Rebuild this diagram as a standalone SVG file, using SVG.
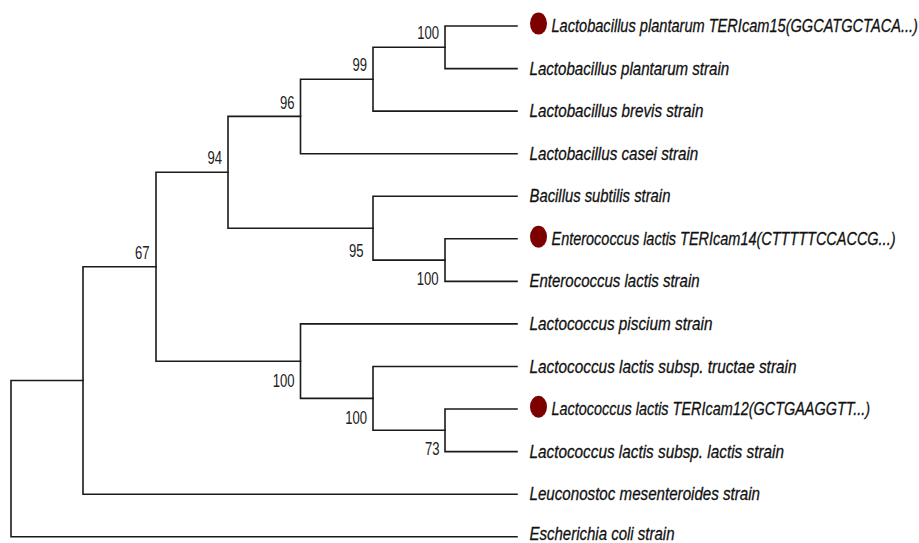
<svg xmlns="http://www.w3.org/2000/svg" width="919" height="543" viewBox="0 0 919 543">
<style>
.leaf{font-family:"Liberation Sans",Arial,sans-serif;font-style:italic;font-size:19px;fill:#111;stroke:#111;stroke-width:0.3}
.bs{font-family:"Liberation Sans",Arial,sans-serif;font-size:19px;fill:#222;text-anchor:end}
.dot{fill:#7d0000}
.br{fill:none;stroke:#1a1a1a;stroke-width:1.6;stroke-linecap:square}
</style>
<rect width="919" height="543" fill="#fff"/>
<g id="connectors" class="br">
<path d="M83,380.5 H11 V536.7 H517"/>
<path d="M156,266.7 H83 V494.2 H517"/>
<path d="M228,172.3 H156 V361.2 H300.5"/>
<path d="M300.5,116.4 H228 V228.2 H373"/>
<path d="M373,79.2 H300.5 V153.7 H517"/>
<path d="M445,47.3 H373 V111.1 H517"/>
<path d="M517,26 H445 V68.6 H517"/>
<path d="M517,196.2 H373 V260.1 H445"/>
<path d="M517,238.8 H445 V281.4 H517"/>
<path d="M517,323.9 H300.5 V398.4 H373"/>
<path d="M517,366.5 H373 V430.3 H445"/>
<path d="M517,409 H445 V451.6 H517"/>
</g>
<g id="leaf-lp-tericam15"><ellipse class="dot" cx="538.5" cy="23.6" rx="8.5" ry="11"/><text class="leaf" transform="translate(551.5,32) scale(0.768,1)">Lactobacillus plantarum TERIcam15(GGCATGCTACA...)</text></g>
<g id="leaf-lp-strain"><text class="leaf" transform="translate(529.5,74.6) scale(0.795,1)">Lactobacillus plantarum strain</text></g>
<g id="leaf-lb-strain"><text class="leaf" transform="translate(529.5,117.1) scale(0.8,1)">Lactobacillus brevis strain</text></g>
<g id="leaf-lc-strain"><text class="leaf" transform="translate(529.5,159.7) scale(0.8,1)">Lactobacillus casei strain</text></g>
<g id="leaf-bs-strain"><text class="leaf" transform="translate(529.5,202.2) scale(0.781,1)">Bacillus subtilis strain</text></g>
<g id="leaf-el-tericam14"><ellipse class="dot" cx="538.5" cy="236.8" rx="8.5" ry="11"/><text class="leaf" transform="translate(551.5,244.8) scale(0.762,1)">Enterococcus lactis TERIcam14(CTTTTTCCACCG...)</text></g>
<g id="leaf-el-strain"><text class="leaf" transform="translate(529.5,287.4) scale(0.79,1)">Enterococcus lactis strain</text></g>
<g id="leaf-lpis-strain"><text class="leaf" transform="translate(529.5,329.9) scale(0.806,1)">Lactococcus piscium strain</text></g>
<g id="leaf-llt-strain"><text class="leaf" transform="translate(529.5,372.5) scale(0.808,1)">Lactococcus lactis subsp. tructae strain</text></g>
<g id="leaf-ll-tericam12"><ellipse class="dot" cx="538.5" cy="406.7" rx="8.5" ry="11"/><text class="leaf" transform="translate(551.5,415) scale(0.76,1)">Lactococcus lactis TERIcam12(GCTGAAGGTT...)</text></g>
<g id="leaf-lll-strain"><text class="leaf" transform="translate(529.5,457.6) scale(0.806,1)">Lactococcus lactis subsp. lactis strain</text></g>
<g id="leaf-lm-strain"><text class="leaf" transform="translate(529.5,500.2) scale(0.797,1)">Leuconostoc mesenteroides strain</text></g>
<g id="leaf-ec-strain"><text class="leaf" transform="translate(529.5,540.3) scale(0.79,1)">Escherichia coli strain</text></g>
<g id="node-100a"><text class="bs" transform="translate(439,39) scale(0.69,1)">100</text></g>
<g id="node-99"><text class="bs" transform="translate(367,71) scale(0.69,1)">99</text></g>
<g id="node-96"><text class="bs" transform="translate(294.5,108.5) scale(0.69,1)">96</text></g>
<g id="node-94"><text class="bs" transform="translate(222,164) scale(0.69,1)">94</text></g>
<g id="node-67"><text class="bs" transform="translate(149.5,258.5) scale(0.69,1)">67</text></g>
<g id="node-95"><text class="bs" transform="translate(363.5,257) scale(0.69,1)">95</text></g>
<g id="node-100b"><text class="bs" transform="translate(438.5,285) scale(0.69,1)">100</text></g>
<g id="node-100c"><text class="bs" transform="translate(294.5,386.5) scale(0.69,1)">100</text></g>
<g id="node-100d"><text class="bs" transform="translate(367,424) scale(0.69,1)">100</text></g>
<g id="node-73"><text class="bs" transform="translate(439.5,455) scale(0.69,1)">73</text></g>
</svg>
